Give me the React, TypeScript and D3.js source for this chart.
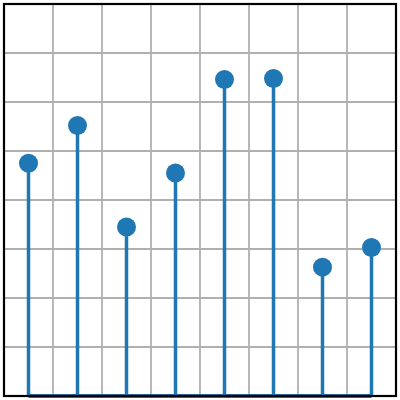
import { useEffect, useRef } from "react";
import * as d3 from "d3";

// stem values, one per column
const positions = [0.5, 1.5, 2.5, 3.5, 4.5, 5.5, 6.5, 7.5];
const values = [4.75, 5.52, 3.45, 4.55, 6.46, 6.48, 2.63, 3.03];
const gridTicks = [1, 2, 3, 4, 5, 6, 7];

export default function App() {
  const svgRef = useRef<SVGSVGElement>(null);

  useEffect(() => {
    if (!svgRef.current) return;
    const svg = d3.select(svgRef.current);
    svg.selectAll("*").remove();

    const margin = { top: 4, right: 4, bottom: 4, left: 4 };
    const width = 400 - margin.left - margin.right;
    const height = 400 - margin.top - margin.bottom;

    const g = svg
      .append("g")
      .attr("transform", `translate(${margin.left},${margin.top})`);

    const x = d3.scaleLinear().domain([0, 8]).range([0, width]);
    const y = d3.scaleLinear().domain([0, 8]).range([height, 0]);

    g.append("rect")
      .attr("width", width)
      .attr("height", height)
      .attr("fill", "#fff");

    // Grid
    g.selectAll(".vgrid")
      .data(gridTicks)
      .enter()
      .append("line")
      .attr("x1", (d) => x(d))
      .attr("x2", (d) => x(d))
      .attr("y1", 0)
      .attr("y2", height)
      .attr("stroke", "#b0b0b0")
      .attr("stroke-width", 1.8);

    g.selectAll(".hgrid")
      .data(gridTicks)
      .enter()
      .append("line")
      .attr("y1", (d) => y(d))
      .attr("y2", (d) => y(d))
      .attr("x1", 0)
      .attr("x2", width)
      .attr("stroke", "#b0b0b0")
      .attr("stroke-width", 1.8);

    const data = positions.map((p, i) => ({ x: p, v: values[i] }));

    // Stems
    g.selectAll(".stem")
      .data(data)
      .enter()
      .append("line")
      .attr("x1", (d) => x(d.x))
      .attr("x2", (d) => x(d.x))
      .attr("y1", y(0))
      .attr("y2", (d) => y(d.v))
      .attr("stroke", "#1f77b4")
      .attr("stroke-width", 3.5);

    // Baseline
    g.append("line")
      .attr("x1", x(d3.min(positions) ?? 0))
      .attr("x2", x(d3.max(positions) ?? 8))
      .attr("y1", y(0))
      .attr("y2", y(0))
      .attr("stroke", "#1f77b4")
      .attr("stroke-width", 4);

    // Markers
    g.selectAll(".marker")
      .data(data)
      .enter()
      .append("circle")
      .attr("cx", (d) => x(d.x))
      .attr("cy", (d) => y(d.v))
      .attr("r", 9.5)
      .attr("fill", "#1f77b4");

    // Frame
    g.append("rect")
      .attr("width", width)
      .attr("height", height)
      .attr("fill", "none")
      .attr("stroke", "#000")
      .attr("stroke-width", 2.2);
  }, []);

  return (
    <div style={{ position: "fixed", top: 0, left: 0 }}>
      <svg ref={svgRef} width={400} height={400} style={{ display: "block" }} />
    </div>
  );
}
